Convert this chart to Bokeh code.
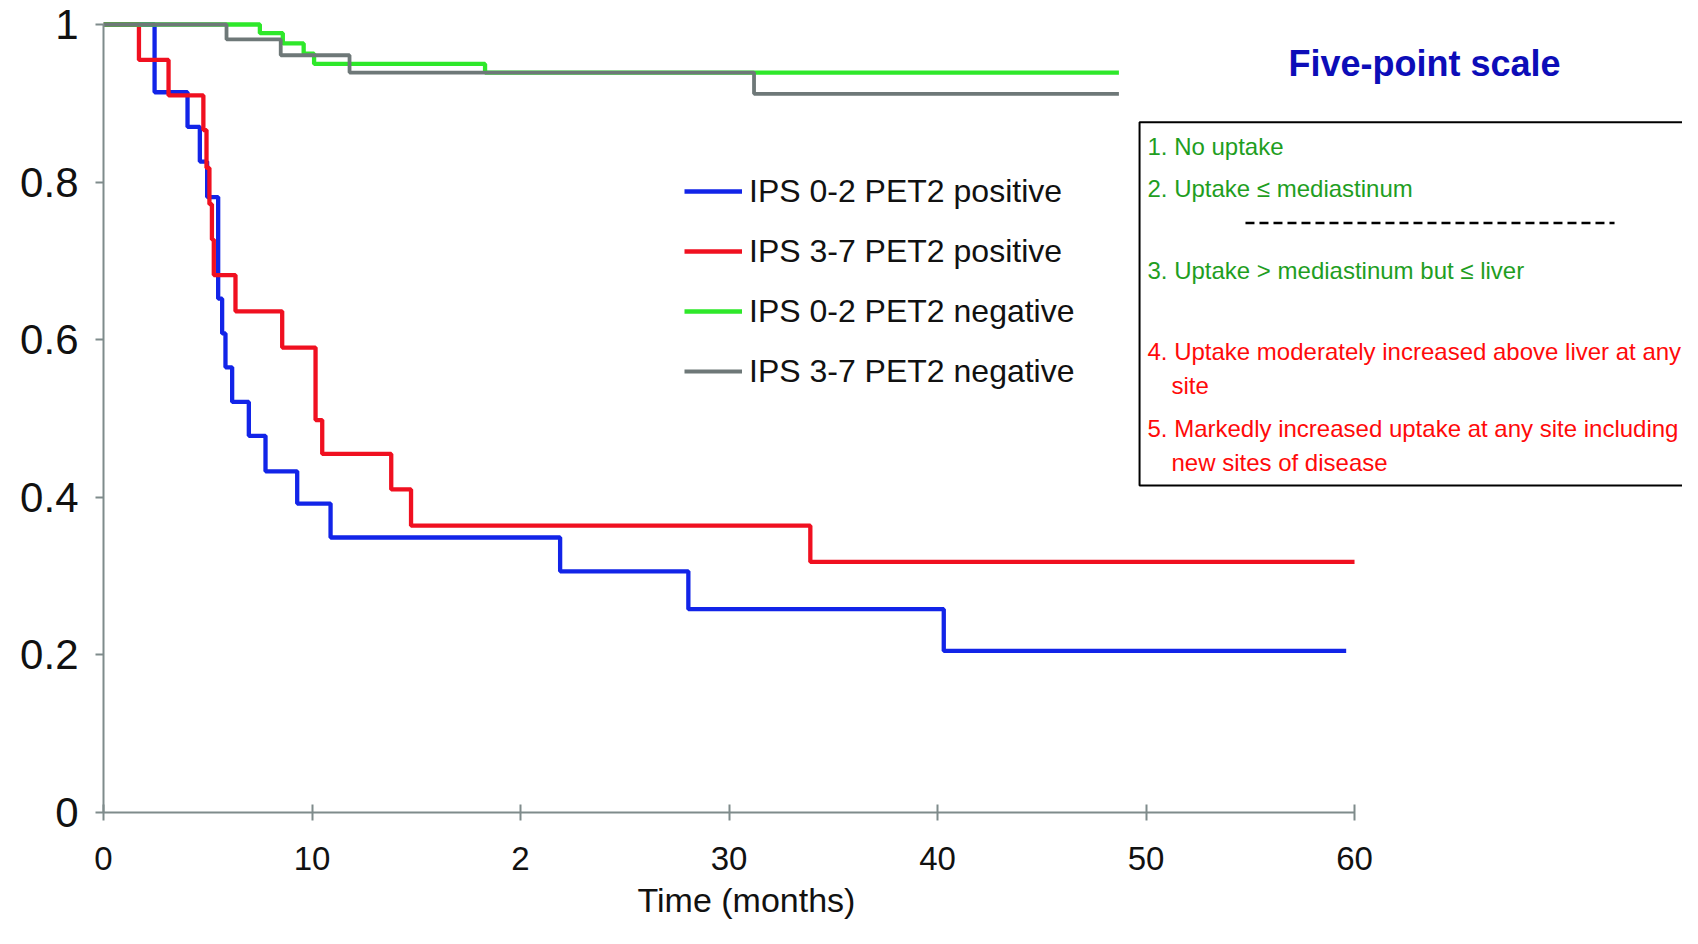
from bokeh.plotting import figure
from bokeh.models import Range1d, Legend, LegendItem, Label, BoxAnnotation, FixedTicker, Title
from bokeh.embed import file_html
from bokeh.resources import INLINE

# ---------------- data ----------------
series_names = ["IPS 0-2 PET2 positive", "IPS 3-7 PET2 positive",
                "IPS 0-2 PET2 negative", "IPS 3-7 PET2 negative"]

blue_t = [0, 2.45, 4.03, 4.62, 4.97, 5.5, 5.69, 5.85, 6.17, 6.97, 7.77, 9.29, 10.89, 21.9, 28.05, 40.3, 59.6]
blue_s = [1, 0.914, 0.870, 0.826, 0.781, 0.652, 0.608, 0.565, 0.521, 0.478, 0.433, 0.392, 0.349, 0.306, 0.258, 0.205, 0.205]

red_t = [0, 1.7, 3.12, 4.79, 4.94, 5.08, 5.2, 5.29, 6.33, 8.57, 10.17, 10.49, 13.8, 14.75, 33.9, 60]
red_s = [1, 0.955, 0.910, 0.866, 0.818, 0.772, 0.727, 0.682, 0.636, 0.590, 0.498, 0.455, 0.410, 0.364, 0.318, 0.318]

green_t = [0, 7.5, 8.6, 9.6, 10.1, 18.3, 48.7]
green_s = [1, 0.989, 0.976, 0.963, 0.950, 0.939, 0.939]

gray_t = [0, 5.9, 8.5, 11.8, 31.2, 48.7]
gray_s = [1, 0.981, 0.961, 0.939, 0.912, 0.912]

x_ticks = [0, 10, 20, 30, 40, 50, 60]
x_tick_labels = ["0", "10", "2", "30", "40", "50", "60"]
y_ticks = [0, 0.2, 0.4, 0.6, 0.8, 1]
y_tick_labels = ["0", "0.2", "0.4", "0.6", "0.8", "1"]

x_label = "Time (months)"
panel_title = "Five-point scale"
panel_lines = [
    ("1. No uptake", "green", 0),
    ("2. Uptake \u2264 mediastinum", "green", 0),
    ("3. Uptake > mediastinum but \u2264 liver", "green", 0),
    ("4. Uptake moderately increased above liver at any", "red", 0),
    ("site", "red", 1),
    ("5. Markedly increased uptake at any site including", "red", 0),
    ("new sites of disease", "red", 1),
]

# ---------------- styling ----------------
FONT = "Liberation Sans"
C_BLUE = "#1224e8"
C_RED = "#f01020"
C_GREEN = "#2ee82a"
C_GRAY = "#6e7878"
C_AXIS = "#7f8b8b"
TXT_GREEN = "#1f9e1f"
TXT_RED = "#ff0a0a"

p = figure(width=1682, height=928,
           x_range=Range1d(0, 75.73), y_range=Range1d(0, 1.030457),
           output_backend="svg", toolbar_location=None,
           min_border_left=103, min_border_right=0, min_border_top=0, min_border_bottom=116)
p.xgrid.visible = False
p.ygrid.visible = False
p.outline_line_color = None
p.background_fill_color = "white"

for ax in (p.xaxis[0], p.yaxis[0]):
    ax.axis_line_color = C_AXIS
    ax.axis_line_width = 2
    ax.major_tick_line_color = C_AXIS
    ax.major_tick_line_width = 2
    ax.minor_tick_line_color = None
    ax.major_label_text_font = FONT
    ax.major_label_text_color = "#111111"

p.xaxis.ticker = FixedTicker(ticks=x_ticks)
p.xaxis.major_label_overrides = {t: l for t, l in zip(x_ticks, x_tick_labels)}
p.xaxis.bounds = (0, 60)
p.xaxis.major_tick_in = 8
p.xaxis.major_tick_out = 8
p.xaxis.major_label_standoff = 26
p.xaxis.major_label_text_font_size = "33px"

p.yaxis.ticker = FixedTicker(ticks=y_ticks)
p.yaxis.major_label_overrides = {t: l for t, l in zip(y_ticks, y_tick_labels)}
p.yaxis.bounds = (0, 1)
p.yaxis.major_tick_in = 0
p.yaxis.major_tick_out = 8
p.yaxis.major_label_standoff = 17
p.yaxis.major_label_text_font_size = "42px"

r_blue = p.step(blue_t, blue_s, mode="after", line_color=C_BLUE, line_width=4.3)
r_red = p.step(red_t, red_s, mode="after", line_color=C_RED, line_width=4.3)
r_green = p.step(green_t, green_s, mode="after", line_color=C_GREEN, line_width=4.3)
r_gray = p.step(gray_t, gray_s, mode="after", line_color=C_GRAY, line_width=3.8)

legend = Legend(items=[LegendItem(label=n, renderers=[r]) for n, r in
                       zip(series_names, [r_blue, r_red, r_green, r_gray])],
                location=(581, 421), orientation="vertical",
                glyph_width=58, glyph_height=40, label_height=40, spacing=20,
                label_standoff=7, padding=0, margin=0,
                label_text_font=FONT, label_text_font_size="32px", label_text_color="#111111",
                border_line_alpha=0, background_fill_alpha=0)
p.add_layout(legend)

p.add_layout(Title(text=x_label, align="left", offset=534, standoff=12,
                   text_font=FONT, text_font_style="normal", text_font_size="34px",
                   text_color="#111111"), "below")

# five-point scale panel
p.add_layout(Label(x=63.36, y=0.9506, text=panel_title, text_align="center",
                   text_baseline="middle", text_font=FONT, text_font_style="bold",
                   text_font_size="36px", text_color="#0d0db8"))
p.add_layout(BoxAnnotation(left=49.69, right=85, top=0.876, bottom=0.415,
                           fill_alpha=0, line_color="black", line_alpha=1, line_width=2))
p.segment(x0=[54.77], y0=[0.748], x1=[72.47], y1=[0.748], line_color="black",
          line_width=2.5, line_dash="9 5")

line_y = [0.8456, 0.7924, 0.6878, 0.5848, 0.5418, 0.4873, 0.4443]
for (txt, col, indent), yy in zip(panel_lines, line_y):
    p.add_layout(Label(x=51.22 if indent else 50.07, y=yy, text=txt,
                       text_baseline="middle", text_font=FONT, text_font_size="24px",
                       text_color=TXT_GREEN if col == "green" else TXT_RED))

open("out.html", "w").write(file_html(p, INLINE))
